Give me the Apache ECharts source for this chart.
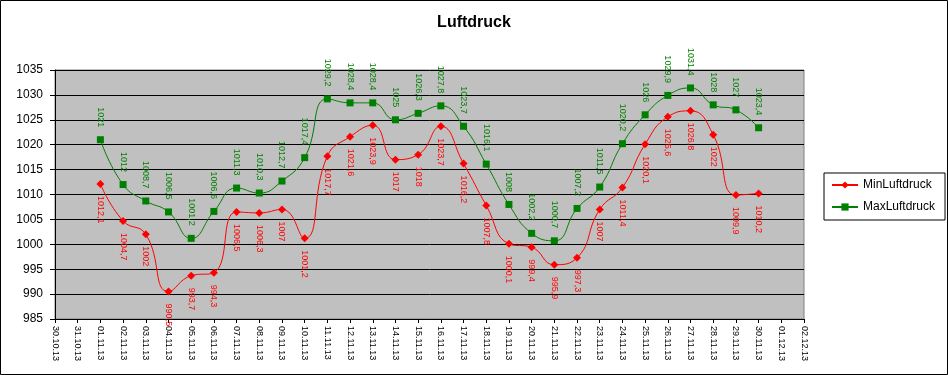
<!DOCTYPE html>
<html>
<head>
<meta charset="utf-8">
<script src="https://cdn.jsdelivr.net/npm/echarts@6/dist/echarts.min.js"></script>
<style>html,body{margin:0;padding:0;background:#fff}#c{width:948px;height:375px}</style>
</head>
<body>
<div id="c"></div>
<script>
var categories = ['30.10.13','31.10.13','01.11.13','02.11.13','03.11.13','04.11.13','05.11.13','06.11.13','07.11.13','08.11.13','09.11.13','10.11.13','11.11.13','12.11.13','13.11.13','14.11.13','15.11.13','16.11.13','17.11.13','18.11.13','19.11.13','20.11.13','21.11.13','22.11.13','23.11.13','24.11.13','25.11.13','26.11.13','27.11.13','28.11.13','29.11.13','30.11.13','01.12.13','02.12.13'];
var minLuftdruck = [null,null,1012.1,1004.7,1002,990.5,993.7,994.3,1006.5,1006.3,1007,1001.2,1017.7,1021.6,1023.9,1017,1018,1023.7,1016.2,1007.8,1000.1,999.4,995.9,997.3,1007,1011.4,1020.1,1025.6,1026.8,1022,1009.9,1010.2,null,null];
var maxLuftdruck = [null,null,1021,1012,1008.7,1006.5,1001.2,1006.6,1011.3,1010.3,1012.7,1017.4,1029.2,1028.4,1028.4,1025,1026.3,1027.8,1023.7,1016.1,1008,1002.2,1000.7,1007.2,1011.5,1020.2,1026,1029.9,1031.4,1028,1027,1023.4,null,null];
var yTicks = {min: 985, max: 1035, interval: 5};

var FONT = "'Liberation Sans', Arial, sans-serif";
function fmt(p){ return String(p.value).replace('.', ','); }

var chart = echarts.init(document.getElementById('c'), null, {renderer: 'canvas'});
chart.setOption({
  animation: false,
  backgroundColor: '#fff',
  title: {
    text: 'Luftdruck', left: 'center', top: 10,
    textStyle: {fontFamily: FONT, fontSize: 16, fontWeight: 'bold', color: '#000'}
  },
  legend: {
    orient: 'vertical', left: 824, top: 173,
    padding: [6, 10, 7, 7], itemGap: 10, itemWidth: 26, itemHeight: 9,
    borderColor: '#000', borderWidth: 1, backgroundColor: '#fff',
    textStyle: {fontFamily: FONT, fontSize: 12, color: '#000'},
    data: ['MinLuftdruck', 'MaxLuftdruck']
  },
  graphic: [{
    type: 'rect', silent: true, z: 100,
    shape: {x: 0.5, y: 0.5, width: 947, height: 374},
    style: {fill: 'none', stroke: '#000', lineWidth: 1}
  }],
  grid: {
    left: 55, right: 144, top: 70, bottom: 56,
    show: true, backgroundColor: '#C0C0C0', borderColor: '#808080', borderWidth: 1
  },
  xAxis: {
    type: 'category', data: categories, boundaryGap: false,
    axisLine: {lineStyle: {color: '#000', width: 1}},
    axisTick: {show: true, interval: 0, length: 4, lineStyle: {color: '#000'}},
    axisLabel: {interval: 0, rotate: -90, fontFamily: FONT, fontSize: 9, color: '#000', margin: 7},
    splitLine: {show: false}
  },
  yAxis: {
    type: 'value', min: yTicks.min, max: yTicks.max, interval: yTicks.interval,
    axisLine: {show: true, lineStyle: {color: '#000', width: 1}},
    axisTick: {show: true, length: 5, lineStyle: {color: '#000'}},
    axisLabel: {fontFamily: FONT, fontSize: 12, color: '#000', margin: 12, formatter: function(v){ return String(v); }},
    splitLine: {show: true, lineStyle: {color: '#000', width: 1}}
  },
  series: [
    {
      name: 'MinLuftdruck', type: 'line', data: minLuftdruck, smooth: 0.5,
      symbol: 'diamond', symbolSize: 8, showAllSymbol: true,
      lineStyle: {color: '#FF0000', width: 1},
      itemStyle: {color: '#FF0000'},
      label: {
        show: true, position: 'bottom', distance: 8, rotate: -90,
        align: 'left', verticalAlign: 'middle',
        fontFamily: FONT, fontSize: 9, color: '#FF0000', formatter: fmt
      },
      z: 3
    },
    {
      name: 'MaxLuftdruck', type: 'line', data: maxLuftdruck, smooth: 0.5,
      symbol: 'rect', symbolSize: 7, showAllSymbol: true,
      lineStyle: {color: '#008000', width: 1},
      itemStyle: {color: '#008000'},
      label: {
        show: true, position: 'top', distance: 9, rotate: -90,
        align: 'right', verticalAlign: 'middle',
        fontFamily: FONT, fontSize: 9, color: '#008000', formatter: fmt
      },
      z: 2
    }
  ]
});
</script>
</body>
</html>
